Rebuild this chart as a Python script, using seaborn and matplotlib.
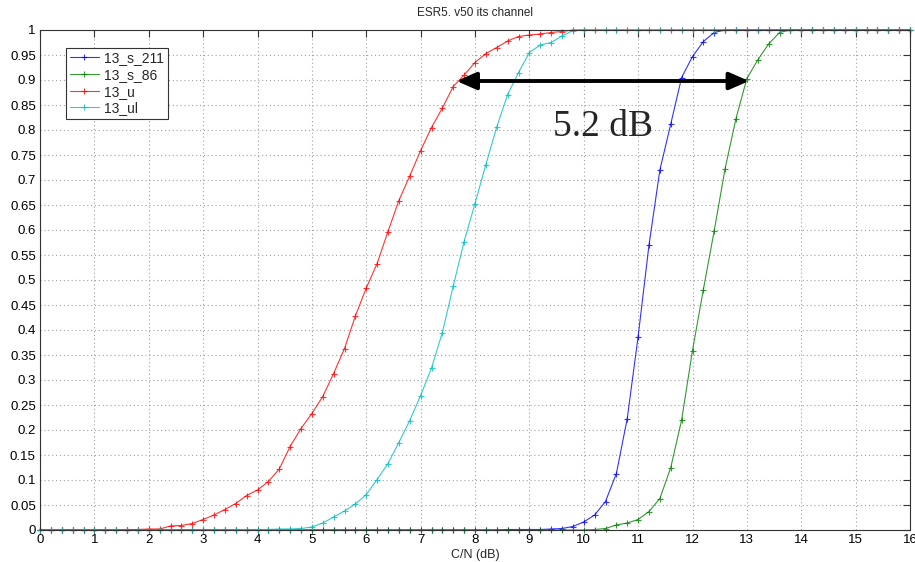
import numpy as np
import pandas as pd
import matplotlib
matplotlib.use("Agg")
import matplotlib.pyplot as plt
import seaborn as sns

# C/N grid (dB), 0.2 dB steps from 0 to 16
cn_db = np.round(np.arange(0, 16.0001, 0.2), 1)

series_names = ["13_s_211", "13_s_86", "13_u", "13_ul"]

s211 = [0] * 43 + [
    0.001, 0.001, 0.001, 0.001, 0.002, 0.003, 0.007, 0.016, 0.030, 0.057,
    0.113, 0.223, 0.387, 0.570, 0.720, 0.812, 0.905, 0.947, 0.977, 0.995,
] + [1] * 18

s86 = [0] * 51 + [
    0.001, 0.003, 0.010, 0.014, 0.021, 0.037, 0.063, 0.125, 0.220, 0.359,
    0.481, 0.599, 0.723, 0.823, 0.903, 0.940, 0.972, 0.995,
] + [1] * 12

u = [0] * 8 + [
    0.001, 0.001, 0.002, 0.002, 0.008, 0.009, 0.013, 0.021, 0.030, 0.041,
    0.053, 0.069, 0.080, 0.097, 0.122, 0.167, 0.203, 0.233, 0.267, 0.313,
    0.363, 0.428, 0.484, 0.533, 0.597, 0.659, 0.708, 0.759, 0.805, 0.844,
    0.887, 0.910, 0.935, 0.953, 0.965, 0.978, 0.987, 0.990, 0.992, 0.995,
    0.997, 1.0,
] + [1] * 31

ul = [0] * 18 + [
    0.001, 0.001, 0.001, 0.001, 0.002, 0.002, 0.003, 0.006, 0.014, 0.026,
    0.038, 0.052, 0.071, 0.101, 0.133, 0.175, 0.219, 0.269, 0.324, 0.395,
    0.488, 0.577, 0.653, 0.731, 0.806, 0.871, 0.915, 0.955, 0.970, 0.975,
    0.988, 0.999,
] + [1] * 31

x_ticks = list(range(0, 17))
y_ticks = [round(0.05 * k, 2) for k in range(21)]
y_tick_labels = ["0", "0.05", "0.1", "0.15", "0.2", "0.25", "0.3", "0.35", "0.4",
                 "0.45", "0.5", "0.55", "0.6", "0.65", "0.7", "0.75", "0.8",
                 "0.85", "0.9", "0.95", "1"]

gap_label = "5.2 dB"
gap_left, gap_right, gap_level = 7.66, 13.04, 0.898

colors = {"13_s_211": "#0000ff", "13_s_86": "#008000",
          "13_u": "#ff0000", "13_ul": "#00bfbf"}

df = pd.concat([
    pd.DataFrame({"cn": cn_db, "p": vals, "series": name})
    for name, vals in zip(series_names, [s211, s86, u, ul])
], ignore_index=True)

sns.set_style("white")
plt.rcParams["font.family"] = ["Liberation Sans", "DejaVu Sans"]

fig = plt.figure(figsize=(9.15, 5.62), dpi=100)
ax = fig.add_axes([40 / 915, 1 - 530 / 562, 870 / 915, 500 / 562])

sns.lineplot(data=df, x="cn", y="p", hue="series", hue_order=series_names,
             palette=colors, estimator=None, sort=False, legend=False,
             marker="+", markersize=5, linewidth=0.8,
             alpha=0.8, clip_on=False, ax=ax)

# "+" markers are all edge: colour them like their line
for line in ax.lines:
    line.set_markeredgecolor(line.get_color())
    line.set_markeredgewidth(0.8)

ax.set_xlim(0, 16)
ax.set_ylim(0, 1)
ax.set_xticks(x_ticks)
ax.set_xticklabels([str(t) for t in x_ticks])
ax.set_yticks(y_ticks)
ax.set_yticklabels(y_tick_labels)
ax.tick_params(direction="in", length=5, width=0.8, top=True, right=True,
               labelsize=9.5, colors="#333333", labelcolor="black", pad=3)
ax.grid(True, linestyle=(0, (1, 2.5)), color="#a0a0a0", linewidth=0.8)
for sp in ax.spines.values():
    sp.set_visible(True)
    sp.set_color("#333333")
    sp.set_linewidth(0.8)

ax.set_title("ESR5. v50 its channel", fontsize=8.5, pad=10)
ax.set_xlabel("C/N (dB)", fontsize=9, labelpad=2)
ax.set_ylabel("")

leg = ax.legend(ax.lines[:4], series_names, loc="upper left",
                bbox_to_anchor=(0.03, 0.965), fontsize=10, frameon=True,
                fancybox=False, framealpha=1, edgecolor="#333333",
                handlelength=2.1, handletextpad=0.4, borderpad=0.25,
                labelspacing=0.2, borderaxespad=0)
leg.get_frame().set_linewidth(0.8)

ax.annotate("", xy=(gap_left, gap_level), xytext=(gap_right, gap_level),
            arrowprops=dict(arrowstyle="<|-|>,head_length=0.8,head_width=0.35",
                            lw=2.8, color="black", mutation_scale=15,
                            shrinkA=0, shrinkB=0), zorder=5)
ax.text(10.36, 0.807, gap_label, fontsize=27, ha="center", va="center",
        family=["Liberation Serif", "DejaVu Serif"], zorder=5)

fig.savefig("out.png", dpi=100)
